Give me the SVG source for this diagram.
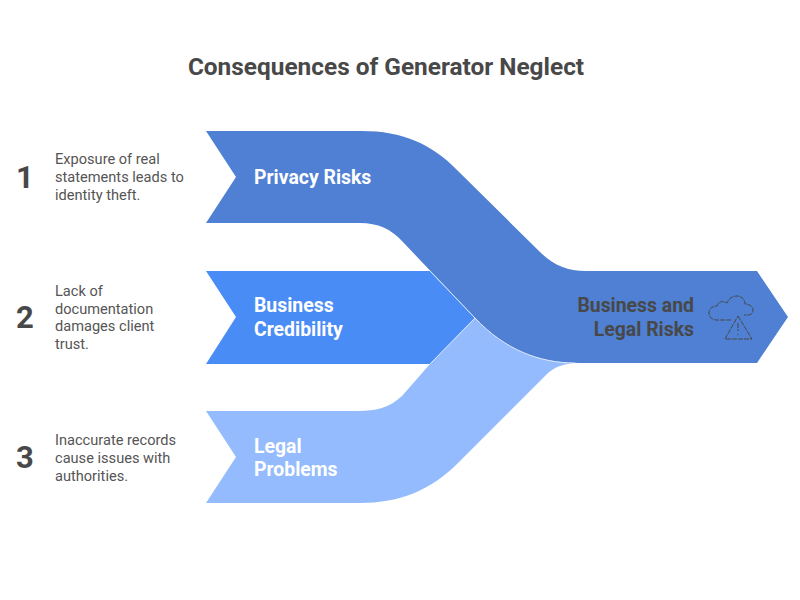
<svg xmlns="http://www.w3.org/2000/svg" width="800" height="600" viewBox="0 0 800 600">
<style>
text{font-family:Roboto,"Liberation Sans",sans-serif}
.t{font-size:24.4px;font-weight:700;fill:#484848}
.n{font-size:31px;font-weight:700;fill:#484848}
.d{font-size:14.6px;fill:#555}
.w{font-size:19.4px;font-weight:700;fill:#fff}
.k{font-size:19.4px;font-weight:700;fill:#484848;text-anchor:end}
.i{fill:none;stroke:#484848;stroke-width:1;stroke-dasharray:5 1}
</style>
<rect width="800" height="600" fill="#fff"/>
<text class="t" x="386" y="75" text-anchor="middle">Consequences of Generator Neglect</text>
<g id="connectors">
<path id="band-legal" d="M206 411H358C376 411 389 408 402 396L430 364L475 318L575 363C562 364 554 367 546 375L458 463C431 490 400 503 360 503H206L236 457Z" fill="#94bbfd"/>
<path id="band-credibility" d="M206 271H430L475 318L430 364H206L236 317Z" fill="#4a8cf5"/>
<path id="band-privacy" d="M206 131H362C402 131 432 144 457 170L540 252C553 265 567 271 586 271H757L788 317L757 363H580C540 363 505 350 475 318L402 241C391 229 378 223 360 223H206L236 177Z" fill="#4f80d3"/>
<path d="M430 271L475 318L430 364M475 318C505 350 540 363 575 363" fill="none" stroke="#dfe9fb" stroke-width="1"/>
</g>
<g id="title-1"><text class="n" x="25" y="188" text-anchor="middle">1</text>
<text class="d"><tspan x="55" y="164">Exposure of real</tspan><tspan x="55" y="182">statements leads to</tspan><tspan x="55" y="200">identity theft.</tspan></text></g>
<g id="title-2"><text class="n" x="25" y="328" text-anchor="middle">2</text>
<text class="d"><tspan x="55" y="296">Lack of</tspan><tspan x="55" y="314">documentation</tspan><tspan x="55" y="331">damages client</tspan><tspan x="55" y="349">trust.</tspan></text></g>
<g id="title-3"><text class="n" x="25" y="468" text-anchor="middle">3</text>
<text class="d"><tspan x="55" y="445">Inaccurate records</tspan><tspan x="55" y="463">cause issues with</tspan><tspan x="55" y="481">authorities.</tspan></text></g>
<g id="node-privacy"><text class="w" x="254" y="184">Privacy Risks</text></g>
<g id="node-credibility"><text class="w"><tspan x="254" y="312">Business</tspan><tspan x="254" y="335.500">Credibility</tspan></text></g>
<g id="node-legal"><text class="w"><tspan x="254" y="452.500">Legal</tspan><tspan x="254" y="475.500">Problems</tspan></text></g>
<g id="node-result"><text class="k"><tspan x="694" y="312">Business and</tspan><tspan x="694" y="336">Legal Risks</tspan></text>
<path class="i" d="M731 320H717C712 320 709 317 709 313C709 309 712 306 717 306C718 302 722 300 727 303C729 298 733 296 737 296C742 296 745 300 745 304C750 304 753 307 753 310C753 313 751 315 748 315H744"/>
<path class="i" d="M738 316L752 339H725Z M738 323V331M738 334V335"/></g>
</svg>
